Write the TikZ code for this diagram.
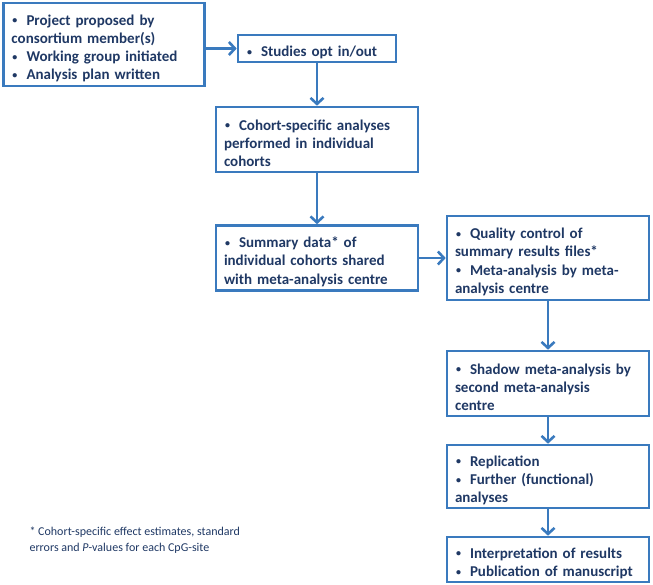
\documentclass[tikz,border=0pt]{standalone}
\usepackage{fontspec}
\setmainfont{Carlito}
\usetikzlibrary{arrows.meta}
\definecolor{boxblue}{RGB}{58,122,190}
\definecolor{inkblue}{RGB}{31,56,100}
\newcommand{\bul}[1]{\par\noindent\hangindent=15pt\hangafter=1\makebox[15pt][l]{\hspace{1pt}\raisebox{0.2ex}{\fontsize{10}{10}\selectfont\textbullet}}#1\par}

\begin{document}
\begin{tikzpicture}[x=1pt, y=-1pt, ->, >={Straight Barb[length=6pt, width=13pt]},
    box/.style={draw=boxblue, line width=2.6pt, text=inkblue, align=left, inner xsep=8pt, inner ysep=2pt, font=\bfseries\fontsize{15}{18.3}\selectfont},
    link/.style={boxblue, line width=2.6pt}]
      \useasboundingbox (0, 0) rectangle (653, 584);
      \node (plan) [box, text width=185pt, minimum height=83pt] at (104, 44.5) {\bul{Project proposed by\\consortium member(s)}\bul{Working group initiated}\bul{Analysis plan written}};
      \node (optin) [box, text width=142pt, minimum height=27pt] at (317, 48.5) {\bul{Studies opt in/out}};
      \node (cohort) [box, text width=186pt, minimum height=65pt] at (317, 139.5) {\bul{Cohort-specific analyses\\performed in individual\\cohorts}};
      \node (share) [box, text width=186pt, minimum height=65pt] at (317, 258) {\bul{Summary data* of\\individual cohorts shared\\with meta-analysis centre}};
      \node (meta) [box, text width=186pt, minimum height=84pt] at (548, 258) {\bul{Quality control of\\summary results files*}\bul{Meta-analysis by meta-\\analysis centre}};
      \node (shadow) [box, text width=186pt, minimum height=65pt] at (548, 383.5) {\bul{Shadow meta-analysis by\\second meta-analysis\\centre}};
      \node (repl) [box, text width=186pt, minimum height=63pt] at (548, 476.5) {\bul{Replication}\bul{Further (functional)\\analyses}};
      \node (publ) [box, text width=186pt, minimum height=45pt] at (548, 559.5) {\bul{Interpretation of results}\bul{Publication of manuscript}};
      \node (note) [anchor=west, text=inkblue, align=left, font=\fontsize{12}{16}\selectfont] at (26, 540) {* Cohort-specific effect estimates, standard\\errors and \textit{P}-values for each CpG-site};
      \draw [->, link] (plan.east |- optin) -- (optin);
      \draw [->, link] (optin) -- (cohort);
      \draw [->, link] (cohort) -- (share);
      \draw [->, link] (share) -- (meta);
      \draw [->, link] (meta) -- (shadow);
      \draw [->, link] (shadow) -- (repl);
      \draw [->, link] (repl) -- (publ);
  \end{tikzpicture}
\end{document}
